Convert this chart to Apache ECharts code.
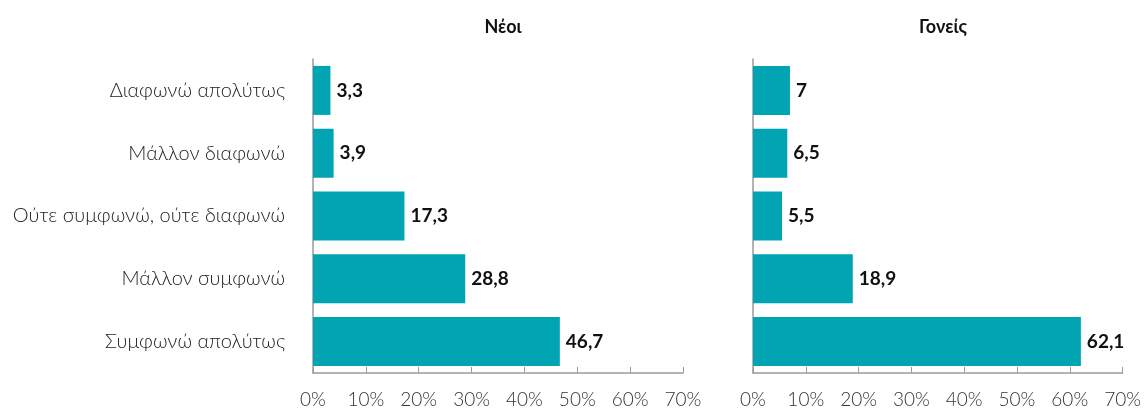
<!DOCTYPE html>
<html>
<head>
<meta charset="utf-8">
<script src="https://cdn.jsdelivr.net/npm/echarts@6/dist/echarts.min.js"></script>
<style>
  html, body { margin: 0; padding: 0; background: #fff; }
  #chart { width: 1144px; height: 409px; }
</style>
</head>
<body>
<div id="chart"></div>
<script>
// categories, top to bottom
const categories = [
  "Διαφωνώ απολύτως",
  "Μάλλον διαφωνώ",
  "Ούτε συμφωνώ, ούτε διαφωνώ",
  "Μάλλον συμφωνώ",
  "Συμφωνώ απολύτως"
];
const panelTitles = ["Νέοι", "Γονείς"];
const youngValues = [3.3, 3.9, 17.3, 28.8, 46.7];
const parentValues = [7, 6.5, 5.5, 18.9, 62.1];

const FONT = "Lato, 'Noto Sans', sans-serif";
const TEAL = "#00a4b2";

let chart = echarts.init(document.getElementById("chart"));

function xAxisFor(idx) {
  return {
    gridIndex: idx,
    type: "value",
    min: 0,
    max: 70,
    interval: 10,
    axisLine: { show: true, lineStyle: { color: "#9a9a9a", width: 1.5 } },
    axisTick: { show: true, inside: true, length: 6, lineStyle: { color: "#9a9a9a" } },
    splitLine: { show: false },
    axisLabel: {
      formatter: "{value}%",
      color: "#333",
      fontSize: 19,
      fontWeight: 300,
      fontFamily: FONT,
      margin: 17
    }
  };
}

function yAxisFor(idx, showLabels) {
  return {
    gridIndex: idx,
    type: "category",
    inverse: true,
    data: categories,
    axisLine: { show: true, lineStyle: { color: "#9a9a9a", width: 1.5 } },
    axisTick: { show: false },
    axisLabel: {
      show: showLabels,
      color: "#222",
      fontSize: 20,
      fontWeight: 300,
      fontFamily: FONT,
      margin: 28
    }
  };
}

function seriesFor(idx, values) {
  return {
    type: "bar",
    xAxisIndex: idx,
    yAxisIndex: idx,
    data: values,
    barWidth: 49,
    itemStyle: { color: TEAL },
    label: {
      show: true,
      position: "right",
      distance: 6,
      color: "#111",
      fontSize: 19,
      fontWeight: "bold",
      fontFamily: FONT,
      formatter: p => String(p.value).replace(".", ",")
    }
  };
}

let option = {
  animation: false,
  title: [
    {
      text: panelTitles[0],
      left: 498,
      top: 13,
      textAlign: "center",
      textStyle: { fontSize: 18, fontWeight: "bold", color: "#111", fontFamily: FONT }
    },
    {
      text: panelTitles[1],
      left: 938,
      top: 13,
      textAlign: "center",
      textStyle: { fontSize: 18, fontWeight: "bold", color: "#111", fontFamily: FONT }
    }
  ],
  grid: [
    { left: 313, right: 461, top: 59, bottom: 36 },
    { left: 753, right: 21, top: 59, bottom: 36 }
  ],
  xAxis: [xAxisFor(0), xAxisFor(1)],
  yAxis: [yAxisFor(0, true), yAxisFor(1, false)],
  series: [seriesFor(0, youngValues), seriesFor(1, parentValues)]
};

chart.setOption(option);
</script>
</body>
</html>
